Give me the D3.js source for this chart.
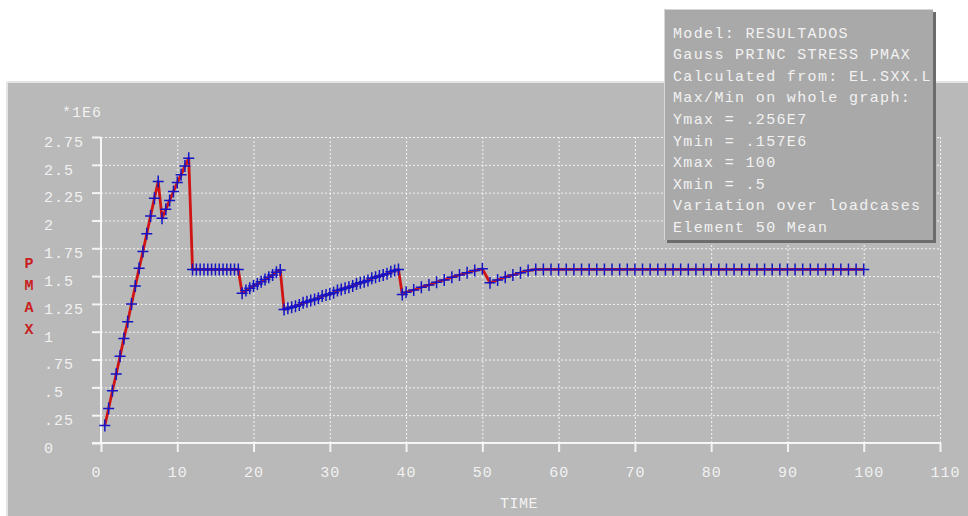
<!DOCTYPE html>
<html>
<head>
<meta charset="utf-8">
<script src="https://cdn.jsdelivr.net/npm/d3@7"></script>
<style>
  html, body { margin: 0; padding: 0; background: #ffffff; }
  svg { display: block; }
  text { font-family: "Courier New", "Liberation Mono", monospace; }
</style>
</head>
<body>
<svg id="chart" width="968" height="516"></svg>
<script>
// Load-case time steps and principal stress PMAX (units of 1E6)
const times = [
  0.5, 1, 1.5, 2, 2.5, 3, 3.5, 4, 4.5, 5, 5.5, 6, 6.5, 7, 7.5,
  8, 8.5, 9, 9.5, 10, 10.5, 11, 11.5,
  12, 12.5, 13, 13.5, 14, 14.5, 15, 15.5, 16, 16.5, 17, 17.5, 18,
  18.5, 19, 19.5, 20, 20.5, 21, 21.5, 22, 22.5, 23, 23.5,
  24, 24.5, 25, 25.5, 26, 26.5, 27, 27.5, 28, 28.5, 29, 29.5, 30, 30.5, 31, 31.5,
  32, 32.5, 33, 33.5, 34, 34.5, 35, 35.5, 36, 36.5, 37, 37.5, 38, 38.5, 39,
  39.5, 40, 41, 42, 43, 44, 45, 46, 47, 48, 49, 50,
  51, 52, 53, 54, 55, 56,
  57, 58, 59, 60, 61, 62, 63, 64, 65, 66, 67, 68, 69, 70, 71, 72, 73, 74, 75, 76, 77, 78,
  79, 80, 81, 82, 83, 84, 85, 86, 87, 88, 89, 90, 91, 92, 93, 94, 95, 96, 97, 98, 99, 100
];
const pmax = [
  0.157, 0.31, 0.47, 0.62, 0.78, 0.94, 1.09, 1.25, 1.41, 1.57, 1.72, 1.88, 2.04, 2.20, 2.35,
  2.02, 2.10, 2.18, 2.26, 2.34, 2.41, 2.49, 2.56,
  1.56, 1.56, 1.56, 1.56, 1.56, 1.56, 1.56, 1.56, 1.56, 1.56, 1.56, 1.56, 1.56,
  1.345, 1.37, 1.39, 1.41, 1.43, 1.45, 1.47, 1.49, 1.51, 1.535, 1.555,
  1.20, 1.21, 1.22, 1.23, 1.24, 1.26, 1.27, 1.28, 1.29, 1.30, 1.32, 1.33, 1.34, 1.35, 1.37, 1.38,
  1.39, 1.40, 1.41, 1.43, 1.44, 1.45, 1.46, 1.48, 1.49, 1.50, 1.51, 1.52, 1.54, 1.55, 1.56,
  1.335, 1.355, 1.375, 1.40, 1.42, 1.445, 1.465, 1.49, 1.51, 1.53, 1.55, 1.565,
  1.44, 1.465, 1.49, 1.51, 1.53, 1.55,
  1.56, 1.56, 1.56, 1.56, 1.56, 1.56, 1.56, 1.56, 1.56, 1.56, 1.56, 1.56, 1.56, 1.56, 1.56, 1.56, 1.56, 1.56, 1.56, 1.56, 1.56, 1.56,
  1.56, 1.56, 1.56, 1.56, 1.56, 1.56, 1.56, 1.56, 1.56, 1.56, 1.56, 1.56, 1.56, 1.56, 1.56, 1.56, 1.56, 1.56, 1.56, 1.56, 1.56, 1.56
];

// Axis ticks and their printed labels
const xTicks = [0, 10, 20, 30, 40, 50, 60, 70, 80, 90, 100, 110];
const yTicks = [0, 0.25, 0.5, 0.75, 1, 1.25, 1.5, 1.75, 2, 2.25, 2.5, 2.75];
const yTickLabels = ["0", ".25", ".5", ".75", "1", "1.25", "1.5", "1.75", "2", "2.25", "2.5", "2.75"];

// Info panel lines
const infoLines = [
  "Model: RESULTADOS",
  "Gauss PRINC STRESS PMAX",
  "Calculated from: EL.SXX.L",
  "Max/Min on whole graph:",
  "Ymax = .256E7",
  "Ymin = .157E6",
  "Xmax = 100",
  "Xmin = .5",
  "Variation over loadcases",
  "Element 50 Mean"
];
const yTitle = ["P", "M", "A", "X"];

const svg = d3.select("#chart");
const textColor = "#f2f2f2";

// Gray graph window with a light bevel
svg.append("rect").attr("x", 8).attr("y", 83).attr("width", 960).attr("height", 433).attr("fill", "#b9b9b9");
svg.append("line").attr("x1", 7).attr("x2", 968).attr("y1", 82).attr("y2", 82).attr("stroke", "#e4e4e4").attr("stroke-width", 2);
svg.append("line").attr("x1", 7).attr("x2", 7).attr("y1", 82).attr("y2", 516).attr("stroke", "#e4e4e4").attr("stroke-width", 2);

const x = d3.scaleLinear().domain([0, 110]).range([101, 940]);
const y = d3.scaleLinear().domain([0, 2.75]).range([443, 137]);

// Dashed grid
const grid = svg.append("g").attr("stroke", "#f4f4f4").attr("stroke-width", 1).attr("stroke-dasharray", "2,2");
grid.selectAll("line.h").data(yTicks.filter(d => d > 0)).join("line")
  .attr("x1", x(0)).attr("x2", x(110))
  .attr("y1", d => y(d) + 0.5).attr("y2", d => y(d) + 0.5);
grid.selectAll("line.v").data(xTicks.filter(d => d > 0)).join("line")
  .attr("y1", y(2.75)).attr("y2", y(0))
  .attr("x1", d => x(d) + 0.5).attr("x2", d => x(d) + 0.5);

// Axes
const yAxis = d3.axisLeft(y).tickValues(yTicks).tickSize(9).tickPadding(0)
  .tickFormat((d, i) => yTickLabels[i]);
const gy = svg.append("g").attr("transform", `translate(${x(0)},0)`).call(yAxis);
gy.select(".domain").remove();
gy.selectAll(".tick line").attr("stroke", "#f4f4f4").attr("stroke-width", 2);
gy.selectAll(".tick text")
  .attr("text-anchor", "start").attr("x", 44 - x(0)).attr("dy", "0.62em")
  .attr("fill", textColor).style("font-size", "15px").style("letter-spacing", "1px")
  .style("font-family", "'Courier New', 'Liberation Mono', monospace");

const xAxis = d3.axisBottom(x).tickValues(xTicks).tickSize(9).tickPadding(0).tickFormat(d3.format("d"));
const gx = svg.append("g").attr("transform", `translate(0,${y(0)})`).call(xAxis);
gx.select(".domain").remove();
gx.selectAll(".tick line").attr("stroke", "#f4f4f4").attr("stroke-width", 2);
gx.selectAll(".tick text")
  .attr("text-anchor", "start").attr("x", -10).attr("y", 34).attr("dy", 0)
  .attr("fill", textColor).style("font-size", "15px").style("letter-spacing", "1px")
  .style("font-family", "'Courier New', 'Liberation Mono', monospace");

// Solid axis lines
svg.append("line").attr("x1", x(0)).attr("x2", x(0)).attr("y1", y(2.75)).attr("y2", y(0))
  .attr("stroke", "#f6f6f6").attr("stroke-width", 2);
svg.append("line").attr("x1", x(0) - 9).attr("x2", x(110)).attr("y1", y(0)).attr("y2", y(0))
  .attr("stroke", "#f6f6f6").attr("stroke-width", 2);

// Axis titles
svg.append("text").attr("x", 62).attr("y", 117).text("*1E6")
  .attr("fill", textColor).style("font-size", "15px").style("letter-spacing", "1px");
svg.append("text").attr("x", 500).attr("y", 508).text("TIME")
  .attr("fill", textColor).style("font-size", "15px").style("letter-spacing", "0.5px");
svg.append("g").selectAll("text").data(yTitle).join("text")
  .attr("x", 29).attr("y", (d, i) => 268 + i * 22)
  .attr("text-anchor", "middle").attr("fill", "#c81e1e")
  .style("font-size", "15px").style("font-weight", "bold")
  .text(d => d);

// Result curve
const pts = times.map((t, i) => [t, pmax[i]]);
const line = d3.line().x(d => x(d[0])).y(d => y(d[1]));
svg.append("path").datum(pts).attr("d", line)
  .attr("fill", "none").attr("stroke", "#d01414").attr("stroke-width", 2.8)
  .attr("stroke-linejoin", "round");
svg.append("g").selectAll("path").data(pts).join("path")
  .attr("d", d => `M${x(d[0]) - 5.5},${y(d[1])}H${x(d[0]) + 5.5}M${x(d[0])},${y(d[1]) - 6}V${y(d[1]) + 6}`)
  .attr("stroke", "#1414c8").attr("stroke-width", 1.5).attr("fill", "none");

// Info box, raised with a drop shadow
const box = { x: 664, y: 9, w: 269, h: 231 };
svg.append("rect").attr("x", box.x + 3).attr("y", box.y + 3).attr("width", box.w).attr("height", box.h).attr("fill", "#6c6c6c");
svg.append("rect").attr("x", box.x).attr("y", box.y).attr("width", box.w).attr("height", box.h).attr("fill", "#a9a9a9");
svg.append("path").attr("d", `M${box.x + 0.5},${box.y + box.h}V${box.y + 0.5}H${box.x + box.w}`)
  .attr("stroke", "#d6d6d6").attr("fill", "none");
svg.append("g").selectAll("text").data(infoLines).join("text")
  .attr("x", 673).attr("y", (d, i) => 37.5 + i * 21.6)
  .attr("fill", textColor).style("font-size", "15px").style("letter-spacing", "1.35px")
  .attr("xml:space", "preserve")
  .text(d => d);
</script>
</body>
</html>
